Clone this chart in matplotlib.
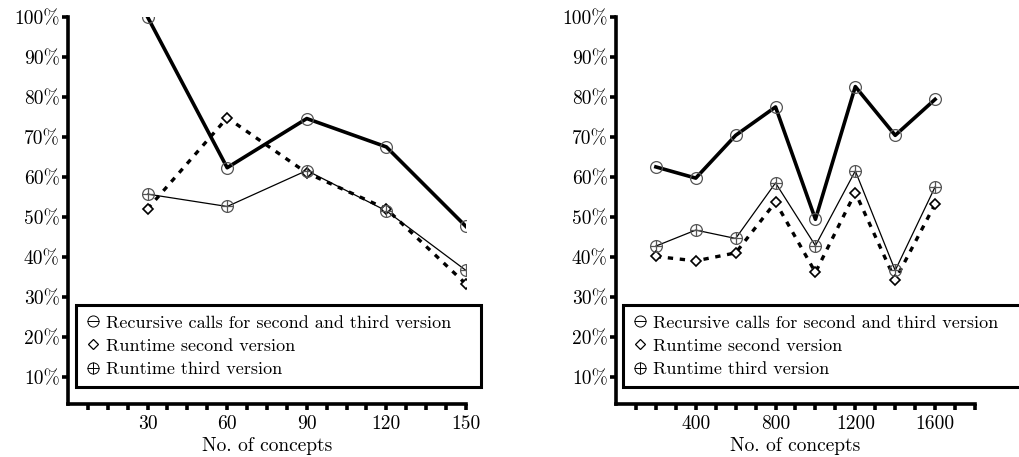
import numpy as np
import matplotlib
matplotlib.use('Agg')
import matplotlib.pyplot as plt
from matplotlib.lines import Line2D

plt.rcParams['font.family'] = ['cmr10', 'DejaVu Serif']
plt.rcParams['axes.formatter.use_mathtext'] = True

# left panel data
n_left = [30, 60, 90, 120, 150]
rec_left = [100, 62.3, 74.6, 67.5, 47.6]
rt2_left = [52.0, 74.8, 61.0, 52.0, 33.2]
rt3_left = [55.7, 52.6, 61.6, 51.5, 36.6]

# right panel data
n_right = [200, 400, 600, 800, 1000, 1200, 1400, 1600]
rec_right = [62.5, 59.7, 70.4, 77.5, 49.4, 82.6, 70.4, 79.4]
rt2_right = [40.1, 39.0, 41.0, 53.7, 36.1, 56.1, 34.2, 53.2]
rt3_right = [42.7, 46.7, 44.6, 58.5, 42.8, 61.5, 36.6, 57.5]

yticks = [10, 20, 30, 40, 50, 60, 70, 80, 90, 100]
ylabels = [str(v) + '%' for v in yticks]
labels = ['Recursive calls for second and third version',
          'Runtime second version',
          'Runtime third version']

fig = plt.figure(figsize=(10.19, 4.57), dpi=100)
ax1 = fig.add_axes((0.0667, 0.116, 0.3906, 0.8468))
ax2 = fig.add_axes((0.6045, 0.116, 0.3523, 0.8468))

gray = '#555555'


def panel(ax, x, rec, rt2, rt3, xmax, xstep, xlab_every, legw):
    ax.plot(x, rec, color='black', lw=2.6, zorder=3)
    ax.plot(x, rec, ls='none', marker='o', ms=8.5, mfc='none', mec=gray, mew=0.9, zorder=4)
    ax.plot(x, rt2, color='black', lw=2.4, ls=(0, (1.6, 2.0)), zorder=3)
    ax.plot(x, rt2, ls='none', marker='D', ms=5, mfc='white', mec='black', mew=1.2, zorder=4)
    ax.plot(x, rt3, color='black', lw=0.9, zorder=3)
    ax.plot(x, rt3, ls='none', marker='o', ms=8.5, mfc='none', mec=gray, mew=0.9, zorder=4)
    ax.plot(x, rt3, ls='none', marker='+', ms=8.5, mec=gray, mew=0.9, zorder=4)

    ax.set_xlim(0, xmax)
    ax.set_ylim(3.2, 100)
    ticks = np.arange(xstep, xmax + xstep / 2, xstep)
    ax.set_xticks(ticks)
    ax.set_xticklabels([('%g' % t) if abs(t % xlab_every) < 1e-6 else '' for t in ticks])
    ax.set_yticks(yticks)
    ax.set_yticklabels(ylabels)
    for s in ['top', 'right']:
        ax.spines[s].set_visible(False)
    for s in ['left', 'bottom']:
        ax.spines[s].set_linewidth(2.6)
    ax.tick_params(axis='both', direction='out', length=4, width=2.6, labelsize=14, pad=2)
    ax.tick_params(axis='x', pad=4)
    ax.set_xlabel('No. of concepts', fontsize=14, labelpad=3)

    circ = dict(ls='none', marker='o', ms=8, mfc='none', mec='black', mew=0.7)
    h1 = (Line2D([], [], **circ),
          Line2D([], [], ls='none', marker='_', ms=8, mec='black', mew=0.7))
    h2 = Line2D([], [], ls='none', marker='D', ms=5, mfc='none', mec='black', mew=0.9)
    h3 = (Line2D([], [], **circ),
          Line2D([], [], ls='none', marker='+', ms=8, mec='black', mew=0.7))
    leg = ax.legend([h1, h2, h3], labels, loc='lower left',
                    bbox_to_anchor=(0.02, 0.044, legw, 0.2), mode='expand',
                    fontsize=13, frameon=True, fancybox=False, framealpha=1,
                    handlelength=0.8, handletextpad=0.3, labelspacing=0.42,
                    borderpad=0.55, borderaxespad=0)
    leg.get_frame().set_edgecolor('black')
    leg.get_frame().set_linewidth(2.2)
    leg.set_zorder(5)
    leg.set_clip_on(False)


panel(ax1, n_left, rec_left, rt2_left, rt3_left, 150, 7.5, 30, 1.018)
panel(ax2, n_right, rec_right, rt2_right, rt3_right, 1800, 100, 400, 1.15)

fig.savefig('out.png', dpi=100)
